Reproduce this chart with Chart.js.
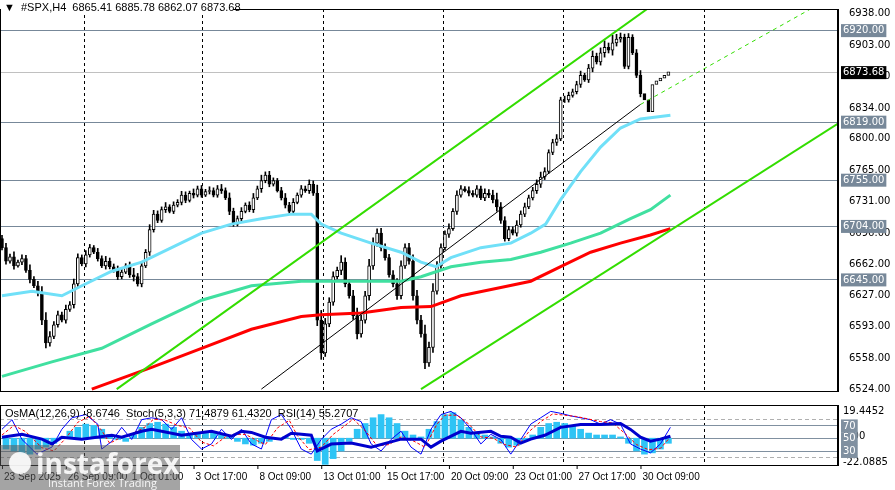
<!DOCTYPE html>
<html>
<head>
<meta charset="utf-8">
<script src="https://cdn.jsdelivr.net/npm/chart.js@4"></script>
<style>
  body { margin: 0; background: #fff; }
  #wrap { width: 895px; height: 490px; position: relative; }
  canvas { display: block; }
</style>
</head>
<body>
<div id="wrap">
  <div style="height:400px;width:895px"><canvas id="main"></canvas></div>
  <div style="height:90px;width:895px"><canvas id="ind"></canvas></div>
</div>
<script>
// ---- data ----
const firstOpen = 6690;
const closes = [
  6680, 6665, 6670, 6660, 6664, 6668, 6655, 6645, 6638, 6630, 6600, 6575, 6582,
  6595, 6606, 6600, 6612, 6617, 6640, 6669, 6662, 6672, 6680, 6675, 6668, 6660, 6665, 6659,
  6655, 6648, 6653, 6660, 6650, 6648, 6640, 6660, 6675, 6700, 6717, 6710, 6722, 6725, 6720, 6727,
  6730, 6738, 6732, 6740, 6738, 6745, 6738, 6742, 6743, 6738, 6745, 6743, 6735, 6720, 6706, 6712,
  6720, 6727, 6722, 6735, 6745, 6754, 6760, 6750, 6754, 6743, 6735, 6727, 6720, 6730, 6738, 6745,
  6743, 6750, 6740, 6600, 6564, 6596, 6620, 6648, 6655, 6664, 6640, 6627, 6605, 6585,
  6600, 6627, 6660, 6685, 6696, 6680, 6669, 6650, 6640, 6627, 6660, 6680, 6665, 6627,
  6600, 6585, 6553, 6570, 6632, 6660, 6680, 6695, 6701, 6720, 6738,
  6745, 6743, 6740, 6738, 6745, 6735, 6740, 6738, 6733, 6725, 6710, 6690, 6700, 6696, 6705,
  6717, 6725, 6735, 6743, 6750, 6758, 6764, 6785, 6796, 6800, 6843,
  6843, 6848, 6852, 6860, 6870, 6865, 6878, 6891, 6885, 6895, 6901, 6898, 6906, 6910, 6912,
  6880, 6912, 6895, 6870, 6850, 6843, 6830, 6860, 6864, 6867, 6870, 6874
];
const wicks = [
  6, 8, 5, 9, 4, 7, 6, 10, 5, 8, 12, 14, 9, 6, 7, 5, 8, 6, 9, 7, 5, 8, 6, 4, 7, 5, 9, 6,
  5, 8, 6, 4, 7, 12, 6, 8, 5, 9, 7, 6, 5, 8, 4, 6, 5, 7, 6, 4, 8, 5, 6, 4, 7, 5, 6, 8,
  5, 9, 6, 5, 7, 4, 6, 8, 5, 10, 6, 7, 5, 4, 6, 8, 5, 7, 4, 6, 5, 8, 6, 15, 18, 10,
  8, 9, 6, 12, 8, 7, 10, 14, 9, 8, 12, 10, 8, 9, 7, 6, 8, 10, 9, 7, 8, 12, 10, 9, 16,
  10, 14, 8, 7, 6, 9, 5, 8, 6, 4, 7, 5, 6, 5, 8, 7, 9, 12, 8, 7, 6, 5, 8, 6, 7, 5,
  6, 8, 9, 7, 5, 6, 8, 5, 7, 6, 5, 6, 8, 4, 7, 10, 6, 9, 12, 8, 14, 9, 8, 6, 7, 5, 6, 9
];
const maFast = [[0,6627],[7.5,6632],[15,6627],[20,6638],[27.5,6654],[35,6664],[42.5,6680],[50,6696],
  [57.5,6706],[65,6712],[72.5,6717],[77.5,6717],[80,6706],[85,6696],[92.5,6685],[100,6675],[105,6664],
  [108.75,6659],[112.5,6669],[120,6680],[127.5,6685],[132.5,6696],[136.25,6706],[140,6733],[145,6764],
  [150,6791],[155,6812],[160,6822],[167.5,6826]];
const maMid = [[0,6538],[12.5,6554],[25,6569],[37.5,6596],[50,6622],[62.5,6638],[75,6643],[90,6643],
  [100,6643],[105,6648],[112.5,6659],[120,6664],[127.5,6667],[135,6675],[142.5,6685],[150,6696],
  [157.5,6712],[162.5,6722],[167.5,6738]];
const maSlow = [[22.5,6524],[37.5,6548],[50,6569],[62.5,6590],[75,6604],[80,6606],[90,6608],[100,6614],
  [107.5,6615],[115,6627],[125,6636],[132.5,6643],[140,6659],[147.5,6675],[155,6685],[162.5,6694],[167.5,6701]];
const chanUpper = [[28.75,6524],[166,6957]];
const chanLower = [[105,6524],[209.5,6817]];
const chanMid = [[65,6524],[160,6838]];
const chanMidExt = [[160,6838],[202.5,6943]];
const levels = [6920, 6819, 6755, 6704, 6645];
const lastPrice = 6873.68;
const priceTicks = [6938, 6903, 6869, 6834, 6800, 6765, 6731, 6696, 6662, 6627, 6593, 6558, 6524];
const dateLabels = ['23 Sep 2025', '26 Sep 09:00', '1 Oct 01:00', '3 Oct 17:00', '8 Oct 09:00', '13 Oct 01:00',
  '15 Oct 17:00', '20 Oct 09:00', '23 Oct 01:00', '27 Oct 17:00', '30 Oct 09:00'];
const dateLabelIdx = [0, 16, 32, 48, 64, 80, 96, 112, 128, 144, 160];
const sepIdx = [20.5, 50, 80.5, 110.5, 140.5, 176];

const osma = [33,30,25,25,33,36,42,52,61,67, 72,70,64,56,48,45,55,67,73,75,
  72,67,61,55,58,61,58,55,52,45, 41,39,42,45,48,52,48,48,42,15,
  9,18,30,45,64,73,82,87,82,73, 61,55,52,64,76,87,90,79,67,58,
  55,52,42,36,39,45,55,67,73,75, 73,70,64,58,55,55,55,52,42,30, 25,27,33,42];
const rsi = [[0,51.5],[5,56],[10,48.5],[12.5,41],[15,51.5],[20,48.5],[27.5,54.6],[30,51.5],[35,60.8],
  [37.5,63.8],[45,54.6],[52.5,60.8],[57.5,53],[60,60.8],[62.5,59],[66,51.5],[70,48.5],[72.5,57.7],
  [77.5,54.6],[79,30],[82.5,40.8],[87.5,42.3],[92.5,36],[100,48.5],[105,48.5],[107.5,36],[110,45.4],
  [115,60.8],[117.5,57.7],[122.5,60.8],[125,53],[127.5,51.5],[130,42.3],[132.5,48.5],[136,54.6],
  [140,67],[145,71.5],[150,71.5],[155,73],[157.5,63.8],[160,51.5],[162.5,45.4],[165,48.5],[167.5,53]];
const stochMain = [[0,64],[2.5,79],[5,48],[8.75,25],[12.5,36],[15,64],[17.5,82],[21,87],[24,72],[25,33],
  [27.5,45],[30,67],[32.5,48],[35,79],[37.5,82],[40,79],[42.5,64],[45,82],[47.5,48],[50,33],[52.5,41],
  [55,64],[57.5,48],[60,64],[62.5,41],[65,33],[67.5,79],[70,87],[72.5,64],[75,33],[77.5,25],[80,48],
  [82.5,64],[85,72],[87.5,82],[90,76],[92.5,41],[95,30],[97.5,48],[100,61],[102.5,36],[105,25],[107.5,64],
  [110,87],[112.5,92],[115,82],[117.5,64],[120,41],[122.5,56],[125,48],[127.5,25],[130,48],[132.5,72],
  [135,82],[137.5,92],[140,89],[142.5,85],[145,82],[147.5,79],[150,72],[152.5,79],[155,72],[157.5,41],
  [160,33],[162.5,27],[165,41],[167.5,67]];
const stochSignal = [[0,55],[3,70],[6,60],[10,35],[13,30],[16,50],[19,75],[22,84],[25,62],[27,42],
  [30,52],[33,58],[36,68],[38,80],[41,78],[44,70],[47,66],[50,44],[53,38],[56,52],[58,56],[61,56],
  [64,46],[66,40],[69,66],[72,78],[74,54],[77,32],[80,36],[83,56],[86,70],[88,80],[91,62],[94,38],
  [97,40],[100,52],[103,46],[106,36],[109,72],[111,86],[114,86],[117,72],[120,52],[123,50],[126,40],
  [129,36],[132,60],[135,76],[138,88],[141,86],[144,84],[147,80],[150,76],[153,74],[156,58],[159,40],
  [162,32],[165,34],[167.5,52]];
const oscLevels = [70, 50, 30];
const oscDashed = [80, 20];

// ---- build series ----
const bodies = [], shadows = [];
closes.forEach((c, i) => {
  const o = i === 0 ? firstOpen : closes[i - 1];
  const hi = Math.max(o, c) + wicks[i] * 0.6;
  const lo = Math.min(o, c) - wicks[i] * 0.4;
  bodies.push({ x: i, y: [o, c], up: c >= o });
  shadows.push({ x: i, y: [lo, hi] });
});
const pts = arr => arr.map(p => ({ x: p[0], y: p[1] }));
const FONT = '"DejaVu Sans", sans-serif';
const NARROW = '"Liberation Sans", Arial, sans-serif';

const makeX = () => ({ type: 'linear', min: -0.5, max: 209.5, offset: false, bounds: 'ticks', display: false });
const rightW = 57;

function drawSeparators(chart) {
  const { ctx, chartArea: a, scales: { x } } = chart;
  ctx.save();
  ctx.strokeStyle = '#000';
  ctx.lineWidth = 1;
  ctx.setLineDash([3, 3]);
  sepIdx.forEach(i => {
    const px = Math.round(x.getPixelForValue(i)) + 0.5;
    ctx.beginPath(); ctx.moveTo(px, a.top); ctx.lineTo(px, a.bottom); ctx.stroke();
  });
  ctx.restore();
}

function axisBox(ctx, x0, y, text, bg, fg) {
  ctx.font = '10px ' + FONT;
  const w = ctx.measureText(text).width + 4;
  ctx.fillStyle = bg;
  ctx.fillRect(x0 + 3, y - 6, w, 13);
  ctx.fillStyle = fg;
  ctx.textBaseline = 'middle';
  ctx.textAlign = 'left';
  ctx.fillText(text, x0 + 5, y + 0.5);
}

const mainPlugin = {
  id: 'mainDeco',
  beforeDatasetsDraw(chart) {
    const { ctx, chartArea: a, scales: { y } } = chart;
    drawSeparators(chart);
    ctx.save();
    ctx.lineWidth = 1;
    ctx.strokeStyle = '#778899';
    levels.forEach(v => {
      const py = Math.round(y.getPixelForValue(v)) + 0.5;
      ctx.beginPath(); ctx.moveTo(a.left, py); ctx.lineTo(a.right, py); ctx.stroke();
    });
    ctx.strokeStyle = '#c0c0c0';
    const lp = Math.round(y.getPixelForValue(lastPrice)) + 0.5;
    ctx.beginPath(); ctx.moveTo(a.left, lp); ctx.lineTo(a.right, lp); ctx.stroke();
    ctx.restore();
  },
  afterDraw(chart) {
    const { ctx, chartArea: a, scales: { y } } = chart;
    ctx.save();
    ctx.strokeStyle = '#000';
    ctx.lineWidth = 1;
    ctx.strokeRect(a.left + 0.5, a.top + 0.5, a.right - a.left - 1, a.bottom - a.top);
    levels.forEach(v => axisBox(ctx, a.right, y.getPixelForValue(v), v.toFixed(2), '#778899', '#fff'));
    axisBox(ctx, a.right, y.getPixelForValue(lastPrice), lastPrice.toFixed(2), '#000', '#fff');
    // header
    ctx.font = '11px ' + NARROW;
    ctx.fillStyle = '#fff';
    ctx.fillRect(1, 1, 232, 14);
    ctx.fillStyle = '#000';
    ctx.textBaseline = 'middle';
    ctx.textAlign = 'left';
    ctx.fillText('\u25BC  #SPX,H4  6865.41 6885.78 6862.07 6873.68', 4, 8);
    ctx.restore();
  }
};

new Chart(document.getElementById('main'), {
  type: 'bar',
  data: {
    datasets: [
      { type: 'line', data: pts(maSlow), borderColor: '#ff0000', borderWidth: 3, pointRadius: 0, order: 1 },
      { type: 'line', data: pts(maMid), borderColor: '#40e0a0', borderWidth: 3, pointRadius: 0, order: 1 },
      { type: 'line', data: pts(maFast), borderColor: '#70e0f8', borderWidth: 3, pointRadius: 0, order: 1 },
      { type: 'line', data: pts(chanUpper), borderColor: '#33dd00', borderWidth: 2, pointRadius: 0, order: 0 },
      { type: 'line', data: pts(chanLower), borderColor: '#33dd00', borderWidth: 2, pointRadius: 0, order: 0 },
      { type: 'line', data: pts(chanMid), borderColor: '#000', borderWidth: 1, pointRadius: 0, order: 0 },
      { type: 'line', data: pts(chanMidExt), borderColor: '#33dd00', borderWidth: 1, borderDash: [4, 4], pointRadius: 0, order: 0 },
      { data: shadows, backgroundColor: '#000', barThickness: 1, grouped: false, order: 3 },
      { data: bodies, backgroundColor: bodies.map(b => b.up ? '#fff' : '#000'), borderColor: '#000',
        borderWidth: 1, borderSkipped: false, barThickness: 3, grouped: false, order: 2 }
    ]
  },
  options: {
    responsive: true, maintainAspectRatio: false, animation: false,
    layout: { padding: 0 },
    plugins: { legend: { display: false }, tooltip: { enabled: false } },
    scales: {
      x: makeX(),
      y: {
        position: 'right', min: 6521.9, max: 6943.3,
        afterBuildTicks: s => { s.ticks = priceTicks.map(v => ({ value: v })); },
        afterFit: s => { s.width = rightW; },
        grid: { display: false, drawOnChartArea: false },
        border: { color: '#000' },
        ticks: { color: '#000', font: { family: FONT, size: 10 }, padding: 3, callback: v => v.toFixed(2) }
      }
    }
  },
  plugins: [mainPlugin]
});

const indPlugin = {
  id: 'indDeco',
  beforeDatasetsDraw(chart) {
    const { ctx, chartArea: a, scales: { y } } = chart;
    drawSeparators(chart);
    ctx.save();
    ctx.lineWidth = 1;
    ctx.strokeStyle = '#8090a0';
    oscLevels.forEach(v => {
      const py = Math.round(y.getPixelForValue(v)) + 0.5;
      ctx.beginPath(); ctx.moveTo(a.left, py); ctx.lineTo(a.right, py); ctx.stroke();
    });
    ctx.strokeStyle = '#b0b0b0';
    ctx.setLineDash([4, 3]);
    oscDashed.forEach(v => {
      const py = Math.round(y.getPixelForValue(v)) + 0.5;
      ctx.beginPath(); ctx.moveTo(a.left, py); ctx.lineTo(a.right, py); ctx.stroke();
    });
    ctx.restore();
  },
  afterDraw(chart) {
    const { ctx, chartArea: a, scales: { x, y } } = chart;
    ctx.save();
    ctx.strokeStyle = '#000';
    ctx.lineWidth = 1;
    ctx.strokeRect(a.left + 0.5, a.top + 0.5, a.right - a.left - 1, a.bottom - a.top);
    ctx.font = '10px ' + FONT;
    ctx.fillStyle = '#000';
    ctx.textAlign = 'left';
    ctx.textBaseline = 'middle';
    ctx.fillText('19.4452', a.right + 5, a.top + 6);
    ctx.fillText('-22.0885', a.right + 5, a.bottom - 3);
    ctx.fillText('0.00', a.right + 5, y.getPixelForValue(50) - 2);
    oscLevels.forEach(v => axisBox(ctx, a.right, y.getPixelForValue(v), String(v), '#8090a0', '#fff'));
    ctx.fillStyle = '#000';
    ctx.font = '11px ' + NARROW;
    ctx.fillText('OsMA(12,26,9) -8.6746  Stoch(5,3,3) 71.4879 61.4320  RSI(14) 55.2707', 5, a.top + 9);
    // time axis
    ctx.font = '10px ' + NARROW;
    ctx.textBaseline = 'top';
    dateLabelIdx.forEach((i, k) => {
      const px = x.getPixelForValue(i);
      ctx.beginPath(); ctx.moveTo(px + 0.5, a.bottom); ctx.lineTo(px + 0.5, a.bottom + 4); ctx.stroke();
      ctx.fillText(dateLabels[k], px + 2, a.bottom + 7);
    });
    // watermark
    const top = 45;
    ctx.fillStyle = 'rgba(90,90,90,0.55)';
    ctx.fillRect(0, top, 180, 45);
    ctx.fillStyle = 'rgba(255,255,255,0.9)';
    ctx.beginPath(); ctx.arc(20, top + 18, 11, 0, Math.PI * 2); ctx.fill();
    ctx.font = 'bold 28px "Open Sans", sans-serif';
    ctx.textBaseline = 'alphabetic';
    ctx.fillText('instaforex', 36, top + 29);
    ctx.font = '11px "Open Sans", sans-serif';
    ctx.fillText('Instant Forex Trading', 48, top + 42);
    ctx.restore();
  }
};

new Chart(document.getElementById('ind'), {
  type: 'bar',
  data: {
    datasets: [
      { type: 'line', data: pts(rsi), borderColor: '#0000cd', borderWidth: 3, pointRadius: 0, order: 0 },
      { type: 'line', data: pts(stochSignal), borderColor: '#ff0000', borderWidth: 1, borderDash: [3, 2], pointRadius: 0, order: 1 },
      { type: 'line', data: pts(stochMain), borderColor: '#0000ff', borderWidth: 1, pointRadius: 0, order: 1 },
      { data: osma.map((v, k) => ({ x: 1 + 2 * k, y: [50, v] })), backgroundColor: '#2ec4f5',
        barThickness: 6, grouped: false, order: 2 }
    ]
  },
  options: {
    responsive: true, maintainAspectRatio: false, animation: false,
    layout: { padding: { top: 5, bottom: 25 } },
    plugins: { legend: { display: false }, tooltip: { enabled: false } },
    scales: {
      x: makeX(),
      y: {
        position: 'right', min: 8, max: 102,
        afterFit: s => { s.width = rightW; },
        grid: { display: false },
        border: { color: '#000' },
        ticks: { display: false }
      }
    }
  },
  plugins: [indPlugin]
});
</script>
</body>
</html>
